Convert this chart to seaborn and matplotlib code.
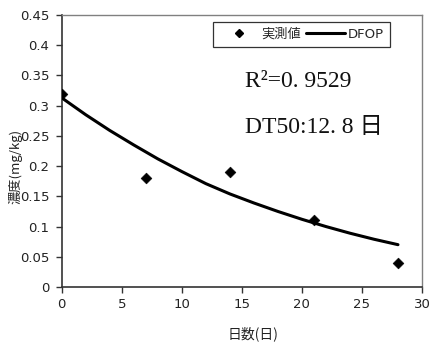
import matplotlib
matplotlib.use("Agg")
import matplotlib.pyplot as plt
from matplotlib.lines import Line2D
import seaborn as sns
import pandas as pd

# measured residue concentrations
days = [0, 7, 14, 21, 28]
measured = [0.32, 0.18, 0.19, 0.11, 0.04]

# fitted DFOP curve
fit_days = [0, 2, 4, 6, 8, 10, 12, 14, 16, 18, 20, 22, 24, 26, 28]
fit_conc = [0.313, 0.285, 0.259, 0.235, 0.212, 0.191, 0.171, 0.154,
            0.139, 0.125, 0.112, 0.100, 0.089, 0.079, 0.070]

x_ticks = [0, 5, 10, 15, 20, 25, 30]
y_ticks = [0, 0.05, 0.1, 0.15, 0.2, 0.25, 0.3, 0.35, 0.4, 0.45]

sns.set_style("white")
plt.rcParams["font.family"] = ["DejaVu Sans", "Noto Sans CJK JP"]

fig = plt.figure(figsize=(4.33, 3.49), dpi=100)
ax = fig.add_axes([0.1425, 0.1777, 0.8321, 0.7793])

pts = pd.DataFrame({"day": days, "conc": measured})
fit = pd.DataFrame({"day": fit_days, "conc": fit_conc})

sns.lineplot(data=fit, x="day", y="conc", ax=ax, color="black",
             linewidth=2.2, zorder=2)
sns.scatterplot(data=pts, x="day", y="conc", ax=ax, marker="D", s=30,
                color="black", edgecolor="black", zorder=3)

ax.set_xlim(0, 30)
ax.set_ylim(0, 0.45)
ax.set_xticks(x_ticks)
ax.set_xticklabels([str(v) for v in x_ticks])
ax.set_yticks(y_ticks)
ax.set_yticklabels(["0", "0.05", "0.1", "0.15", "0.2", "0.25", "0.3",
                    "0.35", "0.4", "0.45"])
ax.tick_params(axis="both", direction="out", length=4, width=1,
               color="#333333", labelsize=9.5, labelcolor="#222222",
               left=True, bottom=True)
ax.tick_params(axis="y", pad=5)
ax.tick_params(axis="x", pad=4)

for side in ["left", "bottom"]:
    ax.spines[side].set_color("#333333")
    ax.spines[side].set_linewidth(1.2)
for side in ["top", "right"]:
    ax.spines[side].set_color("#808080")
    ax.spines[side].set_linewidth(1.0)

ax.set_xlabel("日数(日)", fontsize=10, color="#222222",
              family=["Noto Sans CJK JP"])
ax.xaxis.set_label_coords(0.53, -0.145)
ax.set_ylabel("濃度(mg/kg)", fontsize=9.5, color="#222222",
              family=["Noto Sans CJK JP"])
ax.yaxis.set_label_coords(-0.11, 0.445)

handles = [
    Line2D([], [], marker="D", linestyle="none", color="black", markersize=4),
    Line2D([], [], color="black", linewidth=2.2),
]
leg = ax.legend(handles, ["実測値", "DFOP"], ncol=2, loc="upper left",
                bbox_to_anchor=(0.42, 0.974), borderaxespad=0,
                frameon=True, fancybox=False, edgecolor="black",
                handlelength=3.0, handletextpad=0.2, columnspacing=0.35,
                borderpad=0.45,
                prop={"family": ["DejaVu Sans", "Noto Sans CJK JP"], "size": 9.5})
leg.get_frame().set_linewidth(0.9)

serif = ["Liberation Serif", "Noto Sans CJK JP"]
ax.text(0.508, 0.755, "R²=0. 9529", transform=ax.transAxes,
        fontsize=17, family=serif, color="#111111", va="center", ha="left")
ax.text(0.508, 0.585, "DT50:12. 8 日", transform=ax.transAxes,
        fontsize=17, family=serif, color="#111111", va="center", ha="left")

fig.savefig("out.png", dpi=100, facecolor="white")
